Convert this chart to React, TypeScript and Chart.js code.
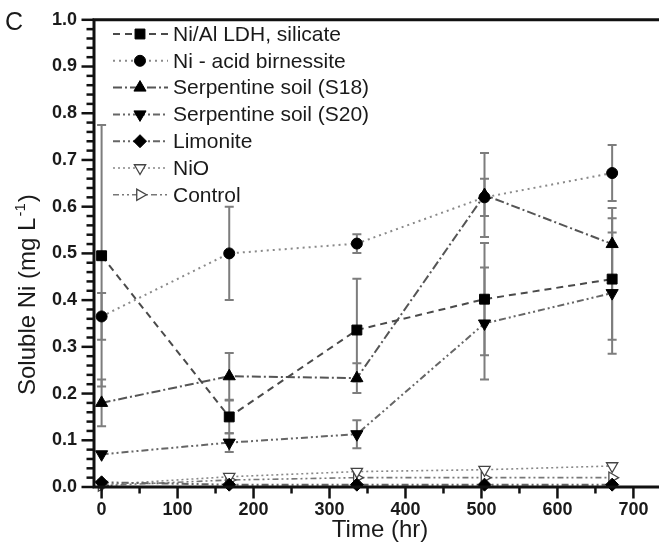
import { useEffect, useRef } from "react";
import { Chart, registerables } from "chart.js";

Chart.register(...registerables);

const FONT = "'Liberation Sans', Arial, Helvetica, sans-serif";

// Sampling times (hr)
const timeHr = [0, 168, 336, 504, 672];

// Soluble Ni (mg/L) and standard deviations per material
const ldhSilicate = [0.495, 0.15, 0.336, 0.402, 0.445];
const ldhSilicateErr = [0.28, 0.035, 0.11, 0.12, 0.13];
const acidBirnessite = [0.365, 0.5, 0.521, 0.62, 0.672];
const acidBirnessiteErr = [0.05, 0.1, 0.02, 0.04, 0.06];
const serpentineS18 = [0.18, 0.237, 0.233, 0.625, 0.52];
const serpentineS18Err = [0.05, 0.05, 0.032, 0.09, 0.077];
const serpentineS20 = [0.07, 0.095, 0.113, 0.35, 0.415];
const serpentineS20Err = [0, 0.02, 0.03, 0.12, 0.13];
const limonite = [0.01, 0.005, 0.005, 0.005, 0.005];
const nickelOxide = [0.005, 0.022, 0.033, 0.037, 0.045];
const control = [0.003, 0.015, 0.02, 0.02, 0.02];

const seriesLabels = [
  "Ni/Al LDH, silicate",
  "Ni - acid birnessite",
  "Serpentine soil (S18)",
  "Serpentine soil (S20)",
  "Limonite",
  "NiO",
  "Control",
];

const xTickValues = [0, 100, 200, 300, 400, 500, 600, 700];
const yTickValues = [0, 0.1, 0.2, 0.3, 0.4, 0.5, 0.6, 0.7, 0.8, 0.9, 1.0];

const toPoints = (ys: number[]) => ys.map((y, i) => ({ x: timeHr[i], y }));

type MarkerStyle = "rect" | "circle" | "triangle" | "rectRot";

function drawMarker(
  ctx: CanvasRenderingContext2D,
  style: MarkerStyle,
  rotation: number,
  radius: number,
  x: number,
  y: number,
  fill: string,
  stroke: string,
  lineWidth: number
) {
  ctx.save();
  ctx.setLineDash([]);
  ctx.beginPath();
  let rad = (rotation * Math.PI) / 180;
  if (style === "circle") {
    ctx.arc(x, y, radius, 0, Math.PI * 2);
  } else if (style === "rect") {
    const s = Math.SQRT1_2 * radius;
    ctx.rect(x - s, y - s, 2 * s, 2 * s);
  } else if (style === "rectRot") {
    ctx.moveTo(x, y - radius);
    ctx.lineTo(x + radius, y);
    ctx.lineTo(x, y + radius);
    ctx.lineTo(x - radius, y);
    ctx.closePath();
  } else {
    for (let k = 0; k < 3; k++) {
      const px = x + Math.sin(rad) * radius;
      const py = y - Math.cos(rad) * radius;
      if (k === 0) ctx.moveTo(px, py);
      else ctx.lineTo(px, py);
      rad += (2 * Math.PI) / 3;
    }
    ctx.closePath();
  }
  ctx.fillStyle = fill;
  ctx.fill();
  ctx.lineWidth = lineWidth;
  ctx.strokeStyle = stroke;
  ctx.stroke();
  ctx.restore();
}

const errorBars: (number[] | null)[] = [
  ldhSilicateErr,
  acidBirnessiteErr,
  serpentineS18Err,
  serpentineS20Err,
  null,
  null,
  null,
];

const errorBarPlugin = {
  id: "errorBars",
  beforeDatasetsDraw(chart: any) {
    const ctx: CanvasRenderingContext2D = chart.ctx;
    const yScale = chart.scales.y;
    ctx.save();
    ctx.strokeStyle = "#7d7d7d";
    ctx.lineWidth = 2;
    errorBars.forEach((errs, i) => {
      if (!errs) return;
      const meta = chart.getDatasetMeta(i);
      const values = chart.data.datasets[i].data as { x: number; y: number }[];
      meta.data.forEach((el: any, j: number) => {
        const e = errs[j];
        if (!e) return;
        const x = el.x;
        const yTop = yScale.getPixelForValue(values[j].y + e);
        const yBot = yScale.getPixelForValue(values[j].y - e);
        ctx.beginPath();
        ctx.moveTo(x, yTop);
        ctx.lineTo(x, yBot);
        ctx.moveTo(x - 4.5, yTop);
        ctx.lineTo(x + 4.5, yTop);
        ctx.moveTo(x - 4.5, yBot);
        ctx.lineTo(x + 4.5, yBot);
        ctx.stroke();
      });
    });
    ctx.restore();
  },
};

const framePlugin = {
  id: "frameAndLabels",
  afterDraw(chart: any) {
    const ctx: CanvasRenderingContext2D = chart.ctx;
    const { left, top, bottom } = chart.chartArea;
    const xScale = chart.scales.x;
    const yScale = chart.scales.y;
    ctx.save();
    ctx.setLineDash([]);
    ctx.strokeStyle = "#111";
    ctx.lineCap = "butt";

    // axis frame
    ctx.lineWidth = 3;
    ctx.beginPath();
    ctx.moveTo(left, top - 1.5);
    ctx.lineTo(left, bottom + 1.5);
    ctx.moveTo(left - 1.5, bottom);
    ctx.lineTo(chart.width, bottom);
    ctx.moveTo(left - 1.5, top);
    ctx.lineTo(chart.width, top);
    ctx.stroke();

    // x ticks (major every 100, minor every 50)
    ctx.lineWidth = 2.5;
    for (let v = 0; v <= 750; v += 50) {
      const px = xScale.getPixelForValue(v);
      const len = v % 100 === 0 ? 10 : 5;
      ctx.beginPath();
      ctx.moveTo(px, bottom);
      ctx.lineTo(px, bottom + 1.5 + len);
      ctx.stroke();
    }
    // y ticks (major every 0.1, minor every 0.02)
    for (let k = 0; k <= 50; k++) {
      const py = yScale.getPixelForValue(k * 0.02);
      const len = k % 5 === 0 ? 11 : 6;
      ctx.beginPath();
      ctx.moveTo(left, py);
      ctx.lineTo(left - 1.5 - len, py);
      ctx.stroke();
    }

    // axis titles
    ctx.fillStyle = "#1a1a1a";
    ctx.font = `24px ${FONT}`;
    ctx.textAlign = "center";
    ctx.textBaseline = "alphabetic";
    ctx.fillText("Time (hr)", 380, 537);

    ctx.save();
    ctx.translate(35, 395);
    ctx.rotate(-Math.PI / 2);
    ctx.textAlign = "left";
    const main = "Soluble Ni (mg L";
    ctx.fillText(main, 0, 0);
    let off = ctx.measureText(main).width;
    ctx.font = `15px ${FONT}`;
    ctx.fillText("-1", off + 1, -10);
    off += ctx.measureText("-1").width + 2;
    ctx.font = `24px ${FONT}`;
    ctx.fillText(")", off, 0);
    ctx.restore();

    // panel letter
    ctx.font = `25px ${FONT}`;
    ctx.textAlign = "left";
    ctx.fillText("C", 5, 30);

    // legend
    const datasets = chart.data.datasets;
    datasets.forEach((ds: any, i: number) => {
      const yy = 34 + i * 26.8;
      ctx.save();
      ctx.strokeStyle = ds.borderColor;
      ctx.lineWidth = ds.borderWidth;
      ctx.setLineDash(ds.borderDash || []);
      ctx.beginPath();
      ctx.moveTo(113, yy);
      ctx.lineTo(168, yy);
      ctx.stroke();
      ctx.restore();
      drawMarker(
        ctx,
        ds.pointStyle,
        ds.pointRotation || 0,
        ds.pointRadius,
        140,
        yy,
        ds.pointBackgroundColor,
        ds.pointBorderColor,
        ds.pointBorderWidth
      );
      ctx.fillStyle = "#1a1a1a";
      ctx.font = `21px ${FONT}`;
      ctx.textAlign = "left";
      ctx.textBaseline = "middle";
      ctx.fillText(seriesLabels[i], 173, yy + 1);
    });
    ctx.restore();
  },
};

export default function App() {
  const canvasRef = useRef<HTMLCanvasElement>(null);

  useEffect(() => {
    const canvas = canvasRef.current;
    if (!canvas) return;

    const base = { clip: false as const, fill: false, tension: 0, pointHoverRadius: 0 };

    const chart = new Chart(canvas, {
      type: "line",
      data: {
        datasets: [
          {
            ...base,
            label: seriesLabels[0],
            data: toPoints(ldhSilicate),
            borderColor: "#4a4a4a",
            borderWidth: 2,
            borderDash: [7, 5],
            pointStyle: "rect",
            pointRadius: 7,
            pointBackgroundColor: "#000",
            pointBorderColor: "#000",
            pointBorderWidth: 1,
          },
          {
            ...base,
            label: seriesLabels[1],
            data: toPoints(acidBirnessite),
            borderColor: "#8a8a8a",
            borderWidth: 2,
            borderDash: [2, 4],
            pointStyle: "circle",
            pointRadius: 5.5,
            pointBackgroundColor: "#000",
            pointBorderColor: "#000",
            pointBorderWidth: 1,
          },
          {
            ...base,
            label: seriesLabels[2],
            data: toPoints(serpentineS18),
            borderColor: "#555",
            borderWidth: 2,
            borderDash: [9, 3, 2, 3],
            pointStyle: "triangle",
            pointRadius: 7,
            pointBackgroundColor: "#000",
            pointBorderColor: "#000",
            pointBorderWidth: 1,
          },
          {
            ...base,
            label: seriesLabels[3],
            data: toPoints(serpentineS20),
            borderColor: "#666",
            borderWidth: 2,
            borderDash: [7, 3, 2, 3, 2, 3],
            pointStyle: "triangle",
            pointRotation: 180,
            pointRadius: 7,
            pointBackgroundColor: "#000",
            pointBorderColor: "#000",
            pointBorderWidth: 1,
          },
          {
            ...base,
            label: seriesLabels[4],
            data: toPoints(limonite),
            borderColor: "#666",
            borderWidth: 2,
            borderDash: [7, 3, 2, 3, 2, 3],
            pointStyle: "rectRot",
            pointRadius: 6.5,
            pointBackgroundColor: "#000",
            pointBorderColor: "#000",
            pointBorderWidth: 1,
          },
          {
            ...base,
            label: seriesLabels[5],
            data: toPoints(nickelOxide),
            borderColor: "#888",
            borderWidth: 1.6,
            borderDash: [2, 3],
            pointStyle: "triangle",
            pointRotation: 180,
            pointRadius: 6.5,
            pointBackgroundColor: "#fff",
            pointBorderColor: "#444",
            pointBorderWidth: 1.3,
          },
          {
            ...base,
            label: seriesLabels[6],
            data: toPoints(control),
            borderColor: "#777",
            borderWidth: 1.6,
            borderDash: [6, 3, 2, 3, 2, 3],
            pointStyle: "triangle",
            pointRotation: 90,
            pointRadius: 6.5,
            pointBackgroundColor: "#fff",
            pointBorderColor: "#444",
            pointBorderWidth: 1.3,
          },
        ] as any,
      },
      options: {
        animation: false,
        responsive: false,
        devicePixelRatio: 1,
        events: [],
        layout: { padding: { top: 18, right: 11, left: 0, bottom: 0 } },
        plugins: {
          legend: { display: false },
          tooltip: { enabled: false },
          title: { display: false },
        },
        scales: {
          x: {
            type: "linear",
            min: -10,
            max: 760,
            afterFit: (s: any) => {
              s.height = 59;
            },
            afterBuildTicks: (s: any) => {
              s.ticks = xTickValues.map((value) => ({ value }));
            },
            grid: { display: false, drawTicks: true, tickLength: 6 },
            border: { display: false },
            ticks: {
              padding: 6,
              maxRotation: 0,
              autoSkip: false,
              color: "#1a1a1a",
              font: { family: FONT, size: 18, weight: "bold" },
              callback: (v: any) => String(v),
            },
          },
          y: {
            type: "linear",
            min: 0,
            max: 1,
            afterFit: (s: any) => {
              s.width = 94;
            },
            afterBuildTicks: (s: any) => {
              s.ticks = yTickValues.map((value) => ({ value }));
            },
            grid: { display: false, drawTicks: true, tickLength: 8 },
            border: { display: false },
            ticks: {
              padding: 9,
              autoSkip: false,
              color: "#1a1a1a",
              font: { family: FONT, size: 18, weight: "bold" },
              callback: (v: any) => Number(v).toFixed(1),
            },
          },
        },
      },
      plugins: [errorBarPlugin, framePlugin],
    });

    return () => chart.destroy();
  }, []);

  return (
    <div
      style={{
        position: "fixed",
        left: 0,
        top: 0,
        width: 659,
        height: 546,
        overflow: "hidden",
        background: "#fff",
      }}
    >
      <canvas
        ref={canvasRef}
        width={690}
        height={546}
        style={{ display: "block", width: 690, height: 546 }}
      />
    </div>
  );
}
